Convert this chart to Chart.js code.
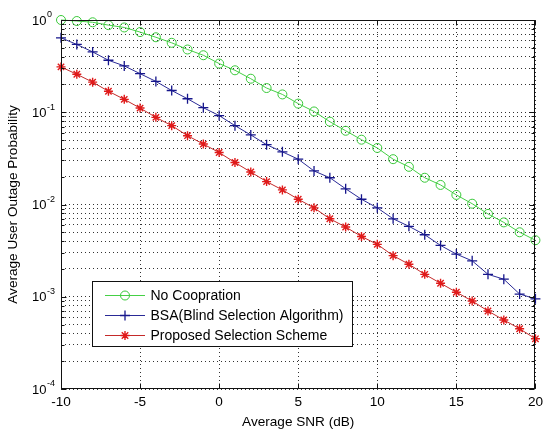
<!DOCTYPE html>
<html>
<head>
<meta charset="utf-8">
<title>Average User Outage Probability</title>
<script src="https://cdn.jsdelivr.net/npm/chart.js@4.4.1/dist/chart.umd.min.js"></script>
<style>
  html, body { margin: 0; padding: 0; background: #fff; }
  #wrap { width: 548px; height: 430px; }
</style>
</head>
<body>
<div id="wrap"><canvas id="outageChart" width="548" height="430"></canvas></div>
<script>
// values (average SNR in dB vs. outage probability)
const snr = [-10, -9, -8, -7, -6, -5, -4, -3, -2, -1, 0, 1, 2, 3, 4, 5, 6, 7, 8, 9, 10,
             11, 12, 13, 14, 15, 16, 17, 18, 19, 20];

const noCooperation = [1.0, 0.975, 0.945, 0.88, 0.83, 0.74, 0.65, 0.566, 0.479, 0.415, 0.337,
                       0.285, 0.231, 0.183, 0.156, 0.124, 0.102, 0.079, 0.063, 0.0504, 0.041,
                       0.031, 0.0256, 0.0195, 0.0163, 0.0127, 0.0102, 0.0079, 0.0064, 0.0050, 0.0041];

const bsa = [0.641, 0.543, 0.451, 0.366, 0.318, 0.262, 0.216, 0.172, 0.140, 0.112, 0.092,
             0.0716, 0.0568, 0.0445, 0.0372, 0.031, 0.0231, 0.0195, 0.0148, 0.0114, 0.0092,
             0.0070, 0.0058, 0.0047, 0.0036, 0.0029, 0.00245, 0.00175, 0.00155, 0.00107, 0.00095];

const proposed = [0.310, 0.258, 0.212, 0.169, 0.138, 0.111, 0.088, 0.0716, 0.0557, 0.0452, 0.0366,
                  0.0285, 0.0225, 0.0177, 0.0144, 0.0114, 0.0092, 0.0070, 0.0057, 0.0045, 0.0037,
                  0.00279, 0.00225, 0.00175, 0.0014, 0.00112, 0.0009, 0.0007, 0.00056, 0.00045, 0.00035];

const seriesNames = ['No Coopration', 'BSA(Blind Selection Algorithm)', 'Proposed Selection Scheme'];

// y axis decades and the exponent shown next to each "10"
const decades   = [1, 0.1, 0.01, 0.001, 0.0001];
const decadeExp = ['0', '-1', '-2', '-3', '-4'];
const minorMult = [2, 3, 4, 5, 6, 7, 8, 9];

const FONT = '"Liberation Sans", Arial, Helvetica, sans-serif';

function toPoints(ys) {
  return snr.map((x, i) => ({ x: x, y: ys[i] }));
}

function drawMarker(ctx, style, x, y, r) {
  ctx.beginPath();
  if (style === 'circle') {
    ctx.arc(x, y, r, 0, Math.PI * 2);
  } else if (style === 'cross') {
    ctx.moveTo(x - r, y); ctx.lineTo(x + r, y);
    ctx.moveTo(x, y - r); ctx.lineTo(x, y + r);
  } else if (style === 'star') {
    ctx.moveTo(x - r, y); ctx.lineTo(x + r, y);
    ctx.moveTo(x, y - r); ctx.lineTo(x, y + r);
    const d = r * 0.72;
    ctx.moveTo(x - d, y - d); ctx.lineTo(x + d, y + d);
    ctx.moveTo(x - d, y + d); ctx.lineTo(x + d, y - d);
  }
  ctx.stroke();
}

// box, inward ticks, superscript y labels and the legend (MATLAB look)
const matlabAxes = {
  id: 'matlabAxes',
  afterDraw(chart) {
    const { ctx, chartArea: a, scales } = chart;
    const xs = scales.x, ys = scales.y;
    const L = Math.round(a.left) + 0.5, R = Math.round(a.right) - 0.5;
    const T = Math.round(a.top) + 0.5, B = Math.round(a.bottom) - 0.5;
    ctx.save();
    ctx.strokeStyle = '#111';
    ctx.lineWidth = 1;
    ctx.setLineDash([]);
    ctx.beginPath();
    xs.ticks.forEach(t => {
      const px = Math.round(xs.getPixelForValue(t.value)) + 0.5;
      ctx.moveTo(px, B); ctx.lineTo(px, B - 5);
      ctx.moveTo(px, T); ctx.lineTo(px, T + 5);
    });
    ys.ticks.forEach(t => {
      const py = Math.round(ys.getPixelForValue(t.value)) + 0.5;
      const len = decades.includes(t.value) ? 5 : 3;
      ctx.moveTo(L, py); ctx.lineTo(L + len, py);
      ctx.moveTo(R, py); ctx.lineTo(R - len, py);
    });
    ctx.stroke();
    ctx.strokeRect(L, T, R - L, B - T);

    // y tick labels 10^n
    ctx.fillStyle = '#000';
    ctx.textBaseline = 'middle';
    ctx.textAlign = 'left';
    decades.forEach((v, i) => {
      const py = ys.getPixelForValue(v);
      ctx.font = '13px ' + FONT;
      ctx.fillText('10', 32, py + 1);
      const w = ctx.measureText('10').width;
      ctx.font = '9px ' + FONT;
      ctx.fillText(decadeExp[i], 32 + w + 0.5, py - 5);
    });

    // legend
    const lx = 92, ly = 281, lw = 260, lh = 65;
    ctx.fillStyle = '#fff';
    ctx.fillRect(lx, ly, lw, lh);
    ctx.strokeStyle = '#111';
    ctx.strokeRect(lx + 0.5, ly + 0.5, lw, lh);
    chart.data.datasets.forEach((ds, i) => {
      const ry = ly + 14.5 + i * 20;
      ctx.strokeStyle = ds.borderColor;
      ctx.lineWidth = 1;
      ctx.beginPath();
      ctx.moveTo(105, ry); ctx.lineTo(145, ry);
      ctx.stroke();
      ctx.strokeStyle = ds.pointBorderColor;
      ctx.lineWidth = ds.pointBorderWidth;
      drawMarker(ctx, ds.pointStyle, 125, ry, ds.pointRadius);
      ctx.fillStyle = '#000';
      ctx.font = '14px ' + FONT;
      ctx.textBaseline = 'middle';
      ctx.fillText(ds.label, 150.5, ry + 1);
    });
    ctx.restore();
  }
};

const dottedGrid = {
  display: true,
  color: 'rgba(0,0,0,0.8)',
  lineWidth: 1,
  drawTicks: false
};

// in Chart.js v4 the grid line dash lives on the border options
const hiddenBorder = { display: false, dash: [1, 3] };

new Chart(document.getElementById('outageChart').getContext('2d'), {
  type: 'line',
  data: {
    datasets: [
      {
        label: seriesNames[0],
        data: toPoints(noCooperation),
        borderColor: '#45d045',
        borderWidth: 1,
        pointStyle: 'circle',
        pointRadius: 4.5,
        pointBorderColor: '#38c838',
        pointBorderWidth: 1,
        pointBackgroundColor: 'rgba(0,0,0,0)',
        clip: false
      },
      {
        label: seriesNames[1],
        data: toPoints(bsa),
        borderColor: '#2a2a96',
        borderWidth: 1,
        pointStyle: 'cross',
        pointRadius: 5,
        pointBorderColor: '#16168c',
        pointBorderWidth: 1.3,
        pointBackgroundColor: 'rgba(0,0,0,0)',
        clip: false
      },
      {
        label: seriesNames[2],
        data: toPoints(proposed),
        borderColor: '#c42a2a',
        borderWidth: 1,
        pointStyle: 'star',
        pointRadius: 4.5,
        pointBorderColor: '#e01a1a',
        pointBorderWidth: 1.4,
        pointBackgroundColor: 'rgba(0,0,0,0)',
        clip: false
      }
    ]
  },
  options: {
    responsive: false,
    devicePixelRatio: 1,
    animation: false,
    layout: { padding: { top: 20, right: 7, left: 0, bottom: 0 } },
    elements: { line: { tension: 0 } },
    plugins: {
      legend: { display: false },
      tooltip: { enabled: false }
    },
    scales: {
      x: {
        type: 'linear',
        min: -10,
        max: 20,
        border: hiddenBorder,
        grid: dottedGrid,
        ticks: {
          stepSize: 5,
          color: '#000',
          padding: 5,
          maxRotation: 0,
          font: { family: FONT, size: 13.6 }
        },
        title: {
          display: true,
          text: 'Average SNR (dB)',
          color: '#000',
          font: { family: FONT, size: 13.6 },
          padding: { top: 0, bottom: 0 }
        },
        afterFit(scale) { scale.height = 41; }
      },
      y: {
        type: 'logarithmic',
        min: 0.0001,
        max: 1,
        border: hiddenBorder,
        grid: dottedGrid,
        ticks: { display: false },
        afterBuildTicks(scale) {
          const t = [];
          decades.slice().reverse().forEach(d => {
            t.push({ value: d });
            if (d < 1) minorMult.forEach(m => t.push({ value: +(m * d).toPrecision(3) }));
          });
          scale.ticks = t;
        },
        title: {
          display: true,
          text: 'Average User Outage Probability',
          color: '#000',
          font: { family: FONT, size: 13.6 },
          padding: { top: 5, bottom: 0 }
        },
        afterFit(scale) { scale.width = 61; }
      }
    }
  },
  plugins: [matlabAxes]
});
</script>
</body>
</html>
